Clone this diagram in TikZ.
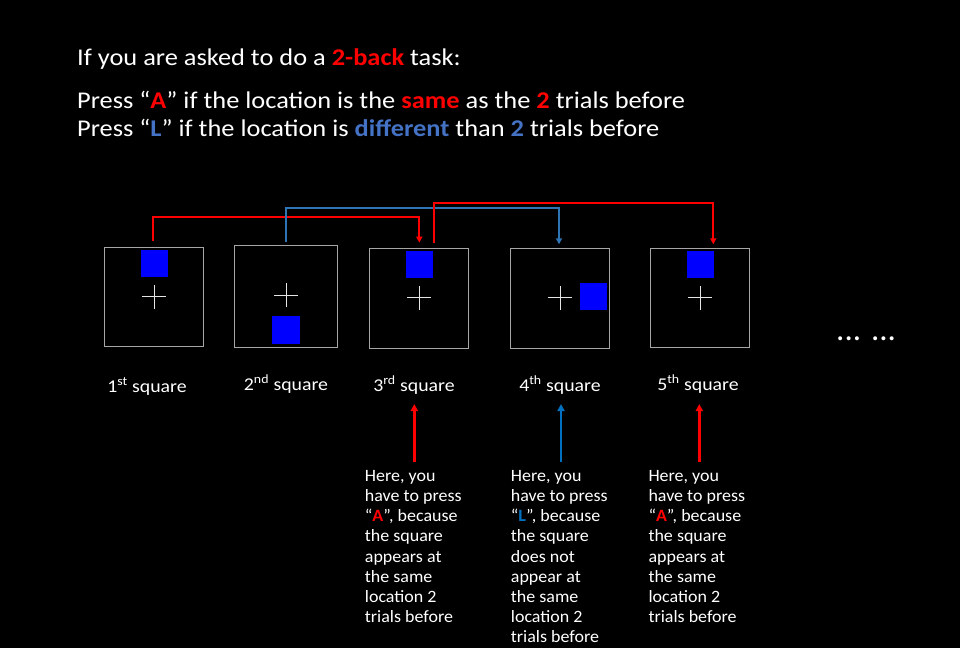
\documentclass[tikz,border=0pt]{standalone}
\usepackage{fontspec}
\setmainfont{Carlito}
\newfontfamily\widefont{Carlito}[FakeStretch=1.1]
\newfontfamily\notefont{Carlito}[FakeStretch=1.04]
\usetikzlibrary{arrows.meta}
\definecolor{hotred}{HTML}{FF0000}
\definecolor{linkblue}{HTML}{2E75B6}
\definecolor{textblue}{HTML}{4472C4}
\definecolor{keyblue}{HTML}{0070C0}
\definecolor{framegray}{HTML}{A6A6A6}
\definecolor{cue}{HTML}{0000FF}
\begin{document}
\begin{tikzpicture}[x=1pt,y=-1pt,
  frame/.style={draw=framegray,line width=1pt,inner sep=0pt,minimum width=#1,minimum height=#1},
  cue/.style={fill=cue,draw=none,inner sep=0pt,minimum width=27pt,minimum height=27pt},
  fixcross/.style={draw=white!90!black,line width=0.9pt},
  redlink/.style={draw=hotred,line width=2pt,-{Triangle[length=6pt,width=6pt]}},
  bluelink/.style={draw=linkblue,line width=2pt,-{Triangle[length=6pt,width=6pt]}},
  pointer/.style={line width=2.6pt,-{Triangle[length=7pt,width=7pt]}},
  heading/.style={text=white,anchor=base west,inner sep=0pt,font=\widefont\fontsize{24}{29}\selectfont},
  caption/.style={text=white,anchor=base,inner sep=0pt,font=\widefont\fontsize{18}{22}\selectfont},
  note/.style={text=white,anchor=north west,inner sep=0pt,align=left,font=\notefont\fontsize{17.3}{20.2}\selectfont}]
\useasboundingbox[fill=black] (0,0) rectangle (960,648);

% heading and instructions
\node[heading] (title) at (77,65) {If you are asked to do a \textcolor{hotred}{\bfseries 2-back} task:};
\node[heading] (ruleA) at (77,108) {Press “\textcolor{hotred}{\bfseries A}” if the location is the \textcolor{hotred}{\bfseries same} as the \textcolor{hotred}{\bfseries 2} trials before};
\node[heading] (ruleL) at (77,136) {Press “\textcolor{textblue}{\bfseries L}” if the location is \textcolor{textblue}{\bfseries different} than \textcolor{textblue}{\bfseries 2} trials before};

% the five trial frames
\node[frame=99pt] (f1) at (154.4,297) {};
\node[frame=102.7pt] (f2) at (285.7,296.4) {};
\node[frame=99.3pt] (f3) at (419.3,298.5) {};
\node[frame=99.3pt] (f4) at (560,298.4) {};
\node[frame=99pt] (f5) at (699.8,298.2) {};

% fixation crosses
\foreach \n/\cx/\cy in {c1/154/296.7, c2/286/295, c3/419.3/297.7, c4/560.3/297.7, c5/700/297.7}{
  \coordinate (\n) at (\cx,\cy);
  \draw[fixcross] ([xshift=-12pt]\n) -- ([xshift=12pt]\n) ([yshift=-12pt]\n) -- ([yshift=12pt]\n);
}

% target squares
\node[cue] (s1) at (154.5,263.5) {};
\node[cue,minimum width=28pt,minimum height=28pt] (s2) at (286,329.5) {};
\node[cue] (s3) at (419.5,264.8) {};
\node[cue] (s4) at (593.3,296.3) {};
\node[cue] (s5) at (700.3,264.6) {};

% 2-back comparisons
\coordinate (a1) at (153.3,240.7);
\coordinate (b1) at (419.3,242.7);
\coordinate (a2) at (286,241.7);
\coordinate (b2) at (559,244.3);
\coordinate (a3) at (434,243.3);
\coordinate (b3) at (713.3,244.3);
\draw[redlink] (a1) -- (153.3,216.7) -| (b1);
\draw[bluelink] (a2) -- (286,207.7) -| (b2);
\draw[redlink] (a3) -- (434,202.7) -| (b3);

% frame captions
\node[caption] (l1) at (147,392) {1\textsuperscript{st} square};
\node[caption] (l2) at (286,390) {2\textsuperscript{nd} square};
\node[caption] (l3) at (414,391) {3\textsuperscript{rd} square};
\node[caption] (l4) at (560,391) {4\textsuperscript{th} square};
\node[caption] (l5) at (698,390) {5\textsuperscript{th} square};

\node[text=white,anchor=base west,inner sep=0pt,font=\fontsize{33}{36}\selectfont] (more) at (836,340) {... ...};

% explanations
\node[note] (n3) at (364.7,470) {Here, you\\have to press\\“\textcolor{hotred}{\bfseries A}”, because\\the square\\appears at\\the same\\location 2\\trials before};
\node[note] (n4) at (510.7,470) {Here, you\\have to press\\“\textcolor{keyblue}{\bfseries L}”, because\\the square\\does not\\appear at\\the same\\location 2\\trials before};
\node[note] (n5) at (648.3,470) {Here, you\\have to press\\“\textcolor{hotred}{\bfseries A}”, because\\the square\\appears at\\the same\\location 2\\trials before};

\coordinate (p3) at (414.3,461.7);
\coordinate (p4) at (561,461.7);
\coordinate (p5) at (699.3,461.7);
\draw[pointer,draw=hotred] (p3) -- (414.3,404);
\draw[pointer,draw=keyblue] (p4) -- (561,404);
\draw[pointer,draw=hotred] (p5) -- (699.3,404);
\end{tikzpicture}
\end{document}
